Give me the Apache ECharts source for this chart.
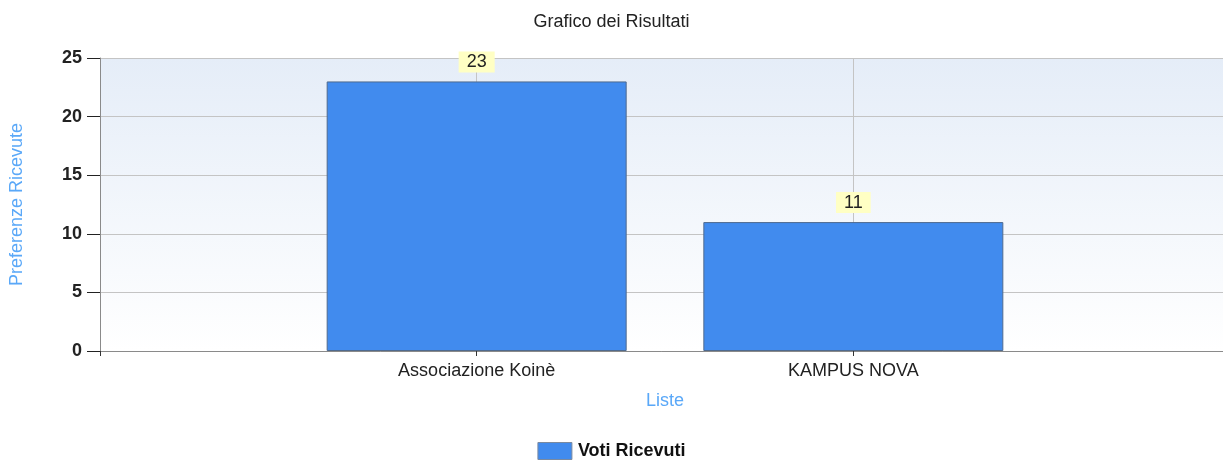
<!DOCTYPE html>
<html>
<head>
<meta charset="utf-8">
<script src="https://cdn.jsdelivr.net/npm/echarts@6/dist/echarts.min.js"></script>
<style>html,body{margin:0;padding:0;background:#fff;}#c{width:1223px;height:461px;}</style>
</head>
<body>
<div id="c"></div>
<script>
const categories = ['Associazione Koinè', 'KAMPUS NOVA'];
const votes = [23, 11];
const seriesName = 'Voti Ricevuti';
const yTicks = [0, 5, 10, 15, 20, 25];

const axisCats = [''].concat(categories, ['']);
const axisData = [null].concat(votes, [null]);
const FONT = 'Arial, "Liberation Sans", sans-serif';

const chart = echarts.init(document.getElementById('c'));
chart.setOption({
  animation: false,
  textStyle: { fontFamily: FONT },
  title: {
    text: 'Grafico dei Risultati', left: 'center', top: 8,
    textStyle: { fontSize: 18, fontWeight: 'normal', color: '#222', fontFamily: FONT }
  },
  legend: {
    data: [{ name: seriesName, icon: 'rect', itemStyle: { color: '#418BEE', borderColor: '#7a8aa0', borderWidth: 1 } }],
    left: 'center', top: 442, padding: 0, itemWidth: 34, itemHeight: 17, itemGap: 6,
    textStyle: { fontSize: 18, lineHeight: 18, fontWeight: 'bold', color: '#111', fontFamily: FONT, padding: [0, 0, 0, 1] }
  },
  grid: {
    left: 100, top: 58, width: 1130, height: 293, show: true, borderWidth: 0,
    outerBoundsMode: 'none', containLabel: false,
    backgroundColor: new echarts.graphic.LinearGradient(0, 0, 0, 1, [
      { offset: 0, color: '#E5EDF8' }, { offset: 1, color: '#FFFFFF' }
    ])
  },
  xAxis: {
    type: 'category', data: axisCats, boundaryGap: false,
    name: 'Liste', nameLocation: 'middle', nameGap: 41,
    nameTextStyle: { fontSize: 18, color: '#5AA8F8', fontFamily: FONT },
    axisLine: { lineStyle: { color: '#8a8a8a', width: 1 } },
    axisTick: { show: true, length: 5, lineStyle: { color: '#333' } },
    axisLabel: { fontSize: 18, color: '#222', margin: 11, fontFamily: FONT },
    splitLine: { show: true, lineStyle: { color: '#c4c4c4' } }
  },
  yAxis: {
    type: 'value', min: yTicks[0], max: yTicks[yTicks.length - 1], interval: 5,
    name: 'Preferenze Ricevute', nameLocation: 'middle', nameGap: 74,
    nameTextStyle: { fontSize: 18, color: '#5AA8F8', fontFamily: FONT },
    axisLine: { show: true, lineStyle: { color: '#8a8a8a', width: 1 } },
    axisTick: { show: true, length: 13, lineStyle: { color: '#222' } },
    axisLabel: { fontSize: 18, fontWeight: 'bold', color: '#222', margin: 18, fontFamily: FONT },
    splitLine: { show: true, lineStyle: { color: '#c4c4c4' } }
  },
  series: [{
    name: seriesName, type: 'bar', data: axisData, barWidth: 300,
    itemStyle: { color: '#418BEE', borderColor: '#4F6A8E', borderWidth: 1 },
    label: {
      show: true, position: 'top', distance: 9, fontSize: 18, color: '#222',
      backgroundColor: '#FFFFC4', padding: [2, 8, 1, 8], fontFamily: FONT
    }
  }]
});
</script>
</body>
</html>
